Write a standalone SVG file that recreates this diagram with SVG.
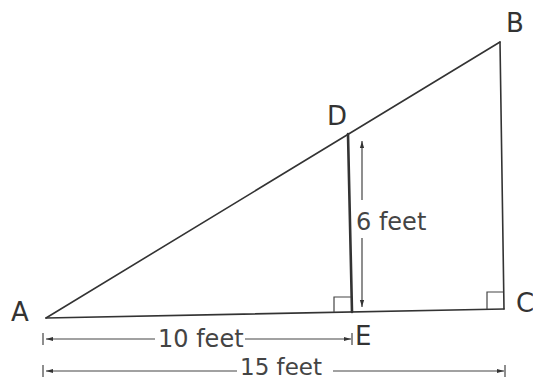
<svg xmlns="http://www.w3.org/2000/svg" width="533" height="381" viewBox="0 0 533 381">
<defs>
<style>
.ln{stroke:#333;stroke-width:1.6;fill:none;stroke-linecap:round}
.dim{stroke:#444;stroke-width:1.2;fill:none}
.lbl{font-family:"DejaVu Sans",sans-serif;font-size:26px;fill:#333}
.dt{font-family:"DejaVu Sans",sans-serif;font-size:24px;fill:#444}
</style>
<marker id="ah" viewBox="0 0 10 10" refX="10" refY="5" markerWidth="7" markerHeight="7" orient="auto-start-reverse" markerUnits="userSpaceOnUse">
<path d="M0,2 L10,5 L0,8 z" fill="#333"/>
</marker>
</defs>
<rect width="533" height="381" fill="#fff"/>
<g id="connectors">
<path class="ln" d="M46,318 L500,42"/>
<path class="ln" d="M46,318 L504,309"/>
<path class="ln" d="M500,42 L504,309"/>
<path class="ln" d="M348,134 L352,312" style="stroke-width:2.6"/>
<path class="dim" d="M334,312 L334,297 L351,297"/>
<path class="dim" d="M487,309 L487,292 L503,292"/>
<path class="dim" d="M362,200 L362,141" marker-end="url(#ah)"/>
<path class="dim" d="M362,238 L362,307" marker-end="url(#ah)"/>
<path class="dim" d="M155,339 L46,339" marker-end="url(#ah)"/>
<path class="dim" d="M245,339 L351,339" marker-end="url(#ah)"/>
<path class="dim" d="M43,333 L43,345 M352,333 L352,345"/>
<path class="dim" d="M237,371 L46,371" marker-end="url(#ah)"/>
<path class="dim" d="M333,371 L504,371" marker-end="url(#ah)"/>
<path class="dim" d="M43,365 L43,377 M505,365 L505,377"/>
</g>
<g id="A"><text class="lbl" x="11" y="321">A</text></g>
<g id="B"><text class="lbl" x="506" y="32">B</text></g>
<g id="D"><text class="lbl" x="327" y="125">D</text></g>
<g id="C"><text class="lbl" x="516" y="312">C</text></g>
<g id="E"><text class="lbl" x="355" y="345">E</text></g>
<g id="label6"><text class="dt" x="356" y="230">6 feet</text></g>
<g id="label10"><text class="dt" x="158" y="347">10 feet</text></g>
<g id="label15"><text class="dt" x="240" y="375" style="font-size:23px">15 feet</text></g>
</svg>
